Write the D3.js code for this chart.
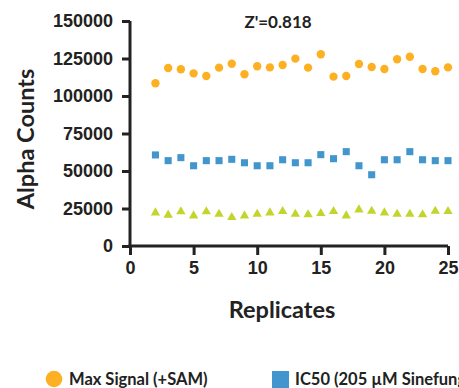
<!DOCTYPE html>
<html>
<head>
<meta charset="utf-8">
<script src="https://cdn.jsdelivr.net/npm/d3@7"></script>
<style>
  body { margin: 0; background: #fff; overflow: hidden; }
  svg { display: block; font-family: Lato, "Open Sans", sans-serif; }
</style>
</head>
<body>
<div id="chart"></div>
<script>
// replicate numbers on the x axis
const replicates = [2,3,4,5,6,7,8,9,10,11,12,13,14,15,16,17,18,19,20,21,22,23,24,25];

// Max Signal (+SAM)
const maxSignal = [108500,118700,117800,115100,113300,118900,121500,114500,119800,119100,120700,124900,
                   118900,127800,112900,113300,121300,119300,118000,124500,126200,118000,116500,119100];

// IC50 (205 µM Sinefungin)
const ic50 = [60700,56900,58900,53500,56900,56900,57800,55500,53500,53500,57500,55500,
              55500,60900,58200,62900,53500,47500,57500,57500,62900,57500,56900,56900];

// min signal (triangles)
const minSignal = [22200,20700,22900,20200,22900,21300,19100,20200,21300,22200,23100,21300,
                   20900,21800,23100,20200,24200,23300,22200,21300,21300,20900,23300,23100];

const yTicks = [0,25000,50000,75000,100000,125000,150000];
const xTicks = [0,5,10,15,20,25];

const width = 459, height = 388;

const svg = d3.select("#chart").append("svg")
    .attr("width", width)
    .attr("height", height);

const x = d3.scaleLinear().domain([0, 25]).range([130, 448]);
const y = d3.scaleLinear().domain([0, 150000]).range([246, 21]);

// y axis
const yAxis = svg.append("g")
    .attr("transform", "translate(130,0)")
    .call(d3.axisLeft(y).tickValues(yTicks).tickSize(8).tickPadding(9).tickFormat(d3.format("d")));

// x axis
const xAxis = svg.append("g")
    .attr("transform", "translate(0,246)")
    .call(d3.axisBottom(x).tickValues(xTicks).tickSize(9).tickPadding(6));

[yAxis, xAxis].forEach(ax => {
    ax.select(".domain").attr("stroke", "#222").attr("stroke-width", 3);
    ax.selectAll(".tick line").attr("stroke", "#222").attr("stroke-width", 3);
    ax.selectAll(".tick text")
        .attr("fill", "#222")
        .style("font-size", "18px")
        .style("font-weight", "bold");
});
// extend domain lines so the corner joins nicely
yAxis.select(".domain").attr("d", "M0," + y(150000) + "V" + (y(0) + 1.5));
xAxis.select(".domain").attr("d", "M" + (x(0) - 1.5) + ",0H" + x(25));

// points
svg.append("g").selectAll("path")
    .data(replicates.map((r, i) => [r, minSignal[i]]))
    .enter().append("path")
    .attr("transform", d => `translate(${x(d[0])},${y(d[1])})`)
    .attr("d", d3.symbol().type(d3.symbolTriangle).size(38))
    .attr("fill", "#c3d52d");

svg.append("g").selectAll("path")
    .data(replicates.map((r, i) => [r, ic50[i]]))
    .enter().append("path")
    .attr("transform", d => `translate(${x(d[0])},${y(d[1])})`)
    .attr("d", d3.symbol().type(d3.symbolSquare).size(50))
    .attr("fill", "#4296cd");

svg.append("g").selectAll("path")
    .data(replicates.map((r, i) => [r, maxSignal[i]]))
    .enter().append("path")
    .attr("transform", d => `translate(${x(d[0])},${y(d[1])})`)
    .attr("d", d3.symbol().type(d3.symbolCircle).size(55))
    .attr("fill", "#fdb022");

// title
svg.append("text")
    .attr("x", 278).attr("y", 28)
    .attr("text-anchor", "middle")
    .attr("fill", "#222")
    .style("font-size", "17px").style("font-weight", "bold")
    .text("Z'=0.818");

// axis titles
svg.append("text")
    .attr("transform", "translate(34,139) rotate(-90)")
    .attr("text-anchor", "middle")
    .attr("fill", "#222")
    .style("font-size", "23.5px").style("font-weight", "bold")
    .text("Alpha Counts");

svg.append("text")
    .attr("x", 282).attr("y", 318)
    .attr("text-anchor", "middle")
    .attr("fill", "#222")
    .style("font-size", "23.5px").style("font-weight", "bold")
    .text("Replicates");

// legend
const legend = svg.append("g");
legend.append("circle").attr("cx", 54).attr("cy", 379).attr("r", 8.3).attr("fill", "#fdb022");
legend.append("text").attr("x", 69).attr("y", 385)
    .attr("fill", "#222").style("font-size", "16.5px").style("font-weight", "bold")
    .text("Max Signal (+SAM)");
legend.append("rect").attr("x", 272).attr("y", 371).attr("width", 17).attr("height", 17).attr("fill", "#4296cd");
legend.append("text").attr("x", 295).attr("y", 385)
    .attr("fill", "#222").style("font-size", "16.5px").style("font-weight", "bold")
    .text("IC50 (205 µM Sinefungin)");
</script>
</body>
</html>
